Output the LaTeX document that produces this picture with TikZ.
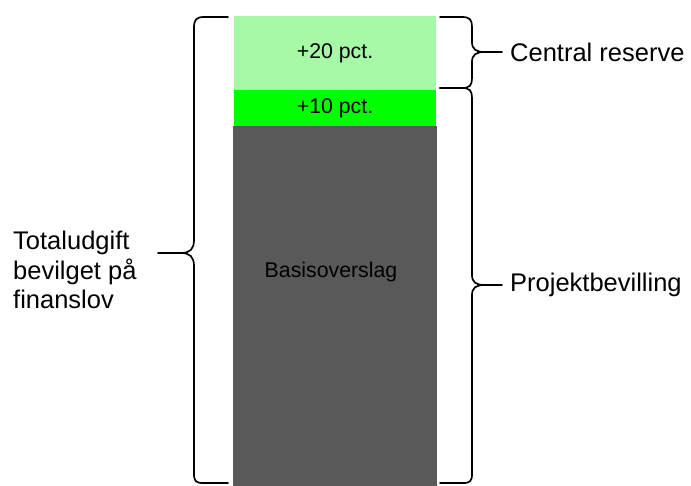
\documentclass[tikz,border=0pt]{standalone}
\usepackage{fontspec}
\setmainfont{Liberation Sans}
\definecolor{lightgr}{RGB}{166,249,166}
\definecolor{brightgr}{RGB}{0,255,0}
\definecolor{darkgr}{RGB}{89,89,89}
\begin{document}
\begin{tikzpicture}[x=1pt,y=-1pt,
  bar/.style={draw=none,inner sep=0pt,anchor=north west},
  bigtext/.style={font=\fontsize{25.5}{29.5}\selectfont,inner sep=0pt},
  smalltext/.style={font=\fontsize{21.3}{25}\selectfont,inner sep=0pt},
  bracestyle/.style={draw=black,line width=1.7pt,line cap=round,line join=round}]
\useasboundingbox (0,0) rectangle (691,486);
% bars
\node[bar,fill=lightgr,minimum width=202pt,minimum height=74pt] (top) at (234,16) {};
\node[bar,fill=brightgr,minimum width=202pt,minimum height=36pt] (mid) at (234,90) {};
\node[bar,fill=darkgr,minimum width=204pt,minimum height=360pt] (base) at (233,126) {};
\node[smalltext] (t20) at (335,53) {+20 pct.};
\node[smalltext] (t10) at (335,108) {+10 pct.};
\node[smalltext] (tb) at (331,272) {Basisoverslag};
% left brace
\coordinate (ltip) at (158,253);
\draw[bracestyle] (228,17) -- (204,17) .. controls (196,17) and (194,20) .. (194,28) -- (194,240)
  .. controls (194,249) and (190,253) .. (181,253) -- (ltip);
\draw[bracestyle] (181,253) .. controls (190,253) and (194,257) .. (194,266) -- (194,474)
  .. controls (194,481) and (196,483) .. (203,483) -- (228,483);
% central reserve brace
\coordinate (ctip) at (502,52);
\draw[bracestyle] (440,17) -- (462,17) .. controls (470,17) and (472,20) .. (472,27) -- (472,42)
  .. controls (472,49) and (476,52) .. (484,52) -- (ctip);
\draw[bracestyle] (484,52) .. controls (476,52) and (472,55) .. (472,62) -- (472,78)
  .. controls (472,85) and (470,88) .. (462,88) -- (440,88);
% projektbevilling brace
\coordinate (ptip) at (502,285);
\draw[bracestyle] (440,88) -- (462,88) .. controls (470,88) and (472,91) .. (472,98) -- (472,275)
  .. controls (472,282) and (476,285) .. (484,285) -- (ptip);
\draw[bracestyle] (484,285) .. controls (476,285) and (472,288) .. (472,295) -- (472,474)
  .. controls (472,481) and (470,483) .. (463,483) -- (440,483);
% labels
\node[bigtext,anchor=west] (lc) at (510,52) {Central reserve};
\node[bigtext,anchor=west] (lp) at (510,285) {Projektbevilling};
\node[bigtext,anchor=north west,align=left] (lt) at (13,231) {Totaludgift\\bevilget på\\finanslov};
\end{tikzpicture}
\end{document}
